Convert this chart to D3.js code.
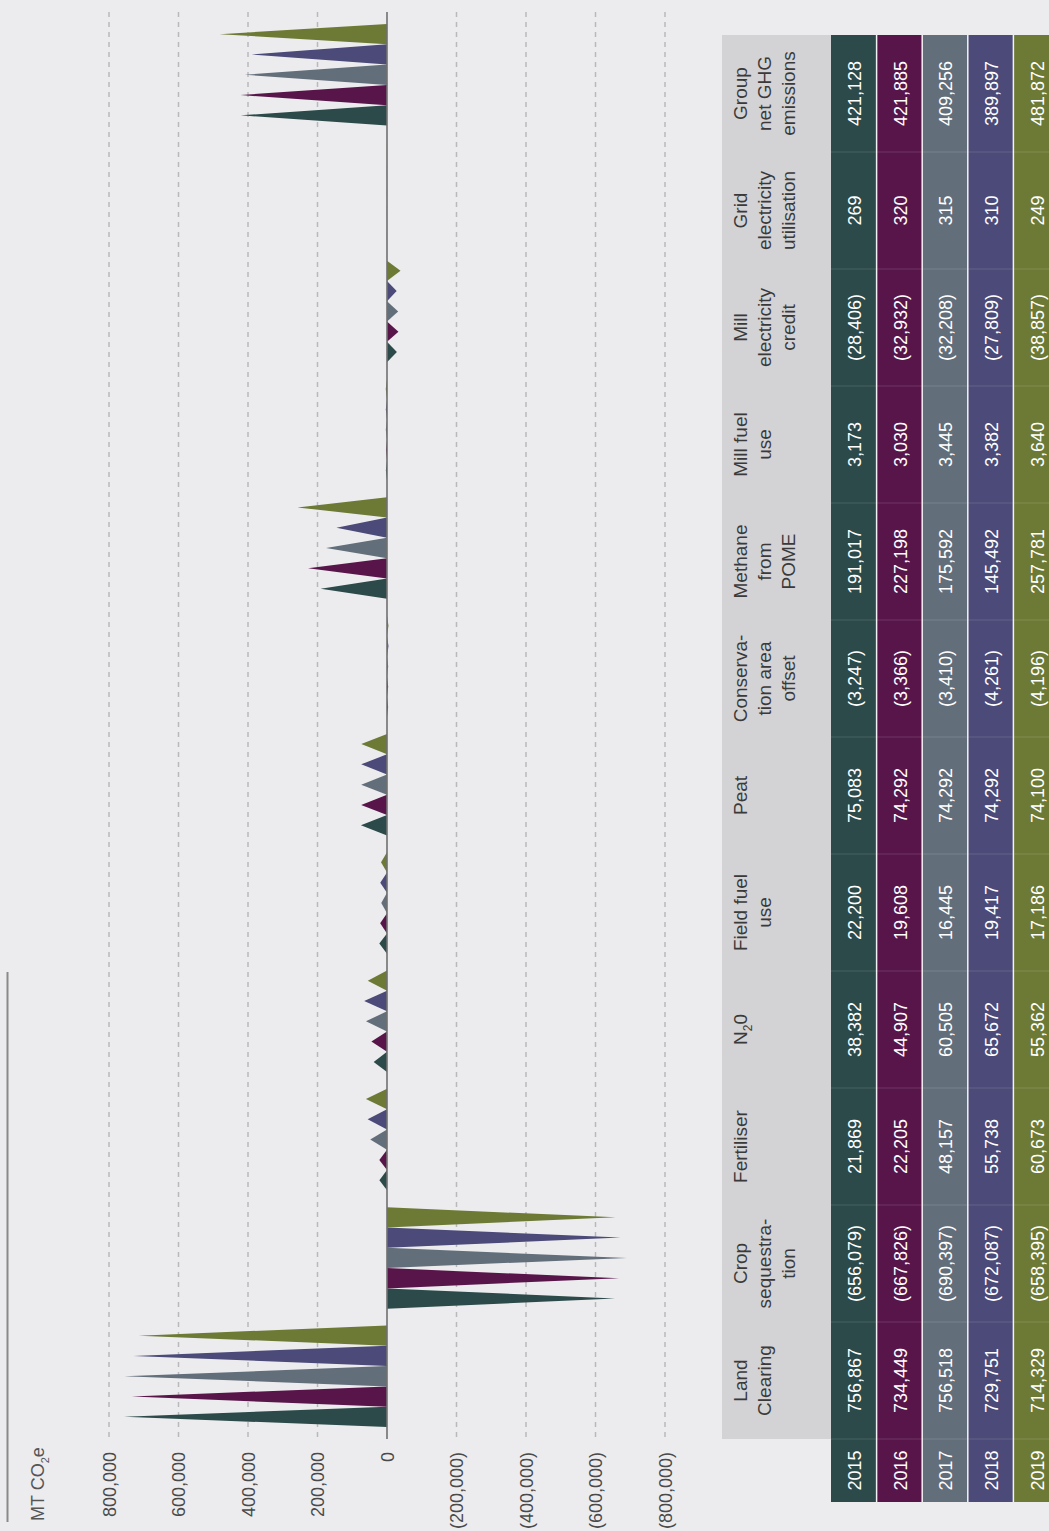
<!DOCTYPE html>
<html>
<head>
<meta charset="utf-8">
<script src="https://cdn.jsdelivr.net/npm/d3@7"></script>
<style>
  html, body { margin: 0; padding: 0; background: #ececee; }
  svg { display: block; font-family: "Liberation Sans", Arial, Helvetica, sans-serif; }
</style>
</head>
<body>
<svg id="chart" width="1049" height="1531"></svg>
<script>
// Emission sources, in table order (bottom to top on the page)
const categories = [
  "Land Clearing", "Crop sequestration", "Fertiliser", "N2O", "Field fuel use", "Peat",
  "Conservation area offset", "Methane from POME", "Mill fuel use",
  "Mill electricity credit", "Grid electricity utilisation", "Group net GHG emissions"
];
// Header text, broken into lines as printed
const headerLines = [
  ["Land", "Clearing"], ["Crop", "sequestra-", "tion"], ["Fertiliser"], ["N2O"],
  ["Field fuel", "use"], ["Peat"], ["Conserva-", "tion area", "offset"],
  ["Methane", "from", "POME"], ["Mill fuel", "use"], ["Mill", "electricity", "credit"],
  ["Grid", "electricity", "utilisation"], ["Group", "net GHG", "emissions"]
];
const years = [2015, 2016, 2017, 2018, 2019];
const yearColors = ["#2b4a49", "#58154a", "#636e7b", "#4b4a78", "#6c7a35"];

// MT CO2e per source, one array per year (negative = removal / credit)
const values2015 = [756867, -656079, 21869, 38382, 22200, 75083, -3247, 191017, 3173, -28406, 269, 421128];
const values2016 = [734449, -667826, 22205, 44907, 19608, 74292, -3366, 227198, 3030, -32932, 320, 421885];
const values2017 = [756518, -690397, 48157, 60505, 16445, 74292, -3410, 175592, 3445, -32208, 315, 409256];
const values2018 = [729751, -672087, 55738, 65672, 19417, 74292, -4261, 145492, 3382, -27809, 310, 389897];
const values2019 = [714329, -658395, 60673, 55362, 17186, 74100, -4196, 257781, 3640, -38857, 249, 481872];
const seriesValues = [values2015, values2016, values2017, values2018, values2019];

const tickValues = [800000, 600000, 400000, 200000, 0, -200000, -400000, -600000, -800000];

const W = 1049, H = 1531;
const svg = d3.select("#chart");
svg.append("rect").attr("width", W).attr("height", H).attr("fill", "#ececee");

const fmt = d3.format(",");
const label = v => v < 0 ? `(${fmt(-v)})` : fmt(v);

// Value axis runs horizontally; positive values extend to the left
const x = d3.scaleLinear().domain([800000, -800000]).range([109, 665]);
const catTopDown = categories.slice().reverse();
const y = d3.scaleBand().domain(catTopDown).range([24, 1427]).paddingInner(0.142).paddingOuter(0);
const yYear = d3.scaleBand().domain(years.slice().reverse()).range([0, y.bandwidth()]);

// Dashed gridlines
svg.append("g")
  .selectAll("line")
  .data(tickValues.filter(t => t !== 0))
  .join("line")
  .attr("x1", d => x(d)).attr("x2", d => x(d))
  .attr("y1", 12).attr("y2", 1438)
  .attr("stroke", "#b9b9bc").attr("stroke-width", 1.5)
  .attr("stroke-dasharray", "5,5");

// Spikes: one triangle per source and year
const spikes = [];
categories.forEach((c, i) => years.forEach((yr, j) => {
  spikes.push({ cat: c, year: yr, value: seriesValues[j][i], color: yearColors[j] });
}));
svg.append("g")
  .selectAll("path")
  .data(spikes)
  .join("path")
  .attr("d", d => {
    const y0 = y(d.cat) + yYear(d.year);
    const y1 = y0 + yYear.bandwidth();
    const x0 = x(0);
    return `M${x0},${y0}L${x(d.value)},${(y0 + y1) / 2}L${x0},${y1}Z`;
  })
  .attr("fill", d => d.color);

// Zero baseline
svg.append("line")
  .attr("x1", x(0)).attr("x2", x(0)).attr("y1", 12).attr("y2", 1439)
  .attr("stroke", "#707070").attr("stroke-width", 1.6);

// Tick labels, rotated to read bottom-to-top, aligned at their far end
const axis = d3.axisBottom(x).tickValues(tickValues).tickFormat(label).tickSize(0);
const axisG = svg.append("g").attr("transform", "translate(0,1452)").call(axis);
axisG.select(".domain").remove();
axisG.selectAll("text")
  .attr("x", 0).attr("y", 0).attr("dy", "0.35em")
  .attr("transform", "rotate(-90)")
  .attr("text-anchor", "end")
  .attr("font-family", "\"Liberation Sans\", Arial, Helvetica, sans-serif")
  .attr("font-size", 18)
  .attr("fill", "#4a4a4a");

// Unit label
const unit = svg.append("text")
  .attr("transform", "translate(38,1521) rotate(-90)")
  .attr("dy", "0.35em")
  .attr("font-size", 18).attr("fill", "#555");
unit.append("tspan").text("MT CO");
unit.append("tspan").text("2").attr("font-size", 11).attr("dy", 5);
unit.append("tspan").text("e").attr("dy", -5);

// Rule at the lower left
svg.append("line")
  .attr("x1", 7.5).attr("x2", 7.5).attr("y1", 972).attr("y2", 1522)
  .attr("stroke", "#8a8a8a").attr("stroke-width", 2);

// ---- Data table ----
const row = d3.scaleBand().domain(catTopDown).range([35, 1439]);
const col = d3.scaleBand().domain(years).range([831, 831 + 5 * 45.6]);
const yearRowTop = 1439, yearRowBottom = 1502;

const table = svg.append("g");
table.append("rect")
  .attr("x", 722).attr("y", 35).attr("width", 109).attr("height", 1439 - 35)
  .attr("fill", "#d3d3d6");

table.selectAll("rect.col")
  .data(years)
  .join("rect")
  .attr("class", "col")
  .attr("x", d => col(d)).attr("y", 35)
  .attr("width", col.bandwidth()).attr("height", yearRowBottom - 35)
  .attr("fill", (d, j) => yearColors[j]);

// Row separators across the coloured columns
table.selectAll("line.rowsep")
  .data(catTopDown.slice(1).map(c => row(c)).concat([yearRowTop]))
  .join("line")
  .attr("class", "rowsep")
  .attr("x1", 831).attr("x2", W)
  .attr("y1", d => d).attr("y2", d => d)
  .attr("stroke", "rgba(255,255,255,0.14)").attr("stroke-width", 1);

// White column separators
table.selectAll("line.colsep")
  .data(years.slice(1))
  .join("line")
  .attr("class", "colsep")
  .attr("x1", d => col(d)).attr("x2", d => col(d))
  .attr("y1", 35).attr("y2", yearRowBottom)
  .attr("stroke", "#f2f2f4").attr("stroke-width", 1.5);

// Values
const cells = [];
categories.forEach((c, i) => years.forEach((yr, j) => {
  cells.push({ cat: c, year: yr, value: seriesValues[j][i] });
}));
table.selectAll("text.val")
  .data(cells)
  .join("text")
  .attr("class", "val")
  .attr("transform", d => `translate(${col(d.year) + col.bandwidth() / 2 + 1},${row(d.cat) + row.bandwidth() / 2}) rotate(-90)`)
  .attr("text-anchor", "middle").attr("dy", "0.35em")
  .attr("font-size", 18).attr("fill", "#ffffff")
  .text(d => label(d.value));

// Year labels
table.selectAll("text.year")
  .data(years)
  .join("text")
  .attr("class", "year")
  .attr("transform", d => `translate(${col(d) + col.bandwidth() / 2 + 1},${(yearRowTop + yearRowBottom) / 2}) rotate(-90)`)
  .attr("text-anchor", "middle").attr("dy", "0.35em")
  .attr("font-size", 18).attr("fill", "#ffffff")
  .text(d => d);

// Row headers
categories.forEach((c, i) => {
  const g = table.append("g")
    .attr("transform", `translate(722,${row(c) + row.bandwidth() / 2}) rotate(-90)`);
  const t = g.append("text")
    .attr("text-anchor", "middle")
    .attr("font-size", 19).attr("fill", "#3a3a3a");
  headerLines[i].forEach((ln, k) => {
    const y0 = 25 + k * 23.8;
    if (ln === "N2O") {
      const ts = t.append("tspan").attr("x", 0).attr("y", y0);
      ts.append("tspan").text("N");
      ts.append("tspan").text("2").attr("font-size", 12).attr("dy", 5);
      ts.append("tspan").text("0").attr("dy", -5);
    } else {
      t.append("tspan").attr("x", 0).attr("y", y0).text(ln);
    }
  });
});
</script>
</body>
</html>
